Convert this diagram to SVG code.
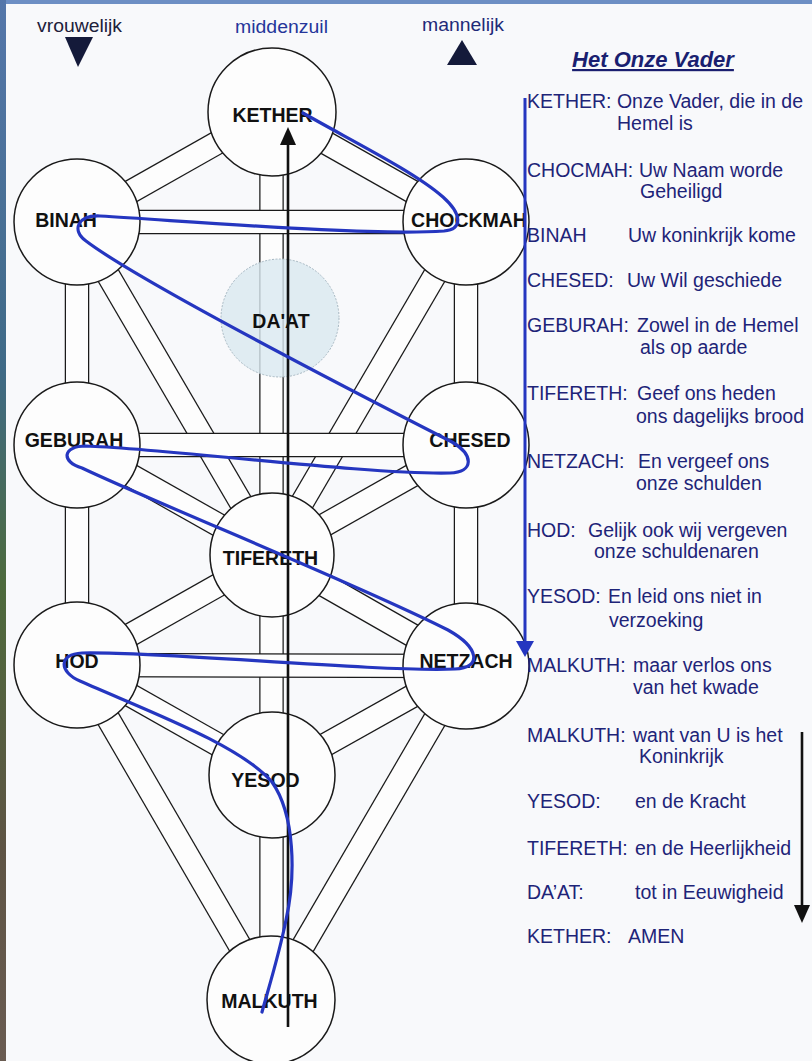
<svg xmlns="http://www.w3.org/2000/svg" width="812" height="1061" viewBox="0 0 812 1061">
<defs>
<linearGradient id="edge" x1="0" y1="0" x2="0" y2="1">
<stop offset="0" stop-color="#5577aa"/>
<stop offset="0.35" stop-color="#3f6a86"/>
<stop offset="0.55" stop-color="#4d6a3c"/>
<stop offset="0.8" stop-color="#5e5444"/>
<stop offset="1" stop-color="#6a5c52"/>
</linearGradient>
<marker id="ahK" markerUnits="userSpaceOnUse" markerWidth="18" markerHeight="18" refX="0" refY="8" orient="auto"><path d="M0,0 L18,8 L0,16 z" fill="#111111"/></marker>
<marker id="ahB" markerUnits="userSpaceOnUse" markerWidth="18" markerHeight="20" refX="0" refY="9" orient="auto"><path d="M0,0 L16,9 L0,18 z" fill="#2536c0"/></marker>
<style>
.co{stroke:#1a1a1a;stroke-width:24.5;fill:none}
.ci{stroke:#fdfdfd;stroke-width:22;fill:none}
.node{fill:#fdfdfd;stroke:#1a1a1a;stroke-width:1.5}
.lbl{font-family:"Liberation Sans",Arial,sans-serif;font-weight:bold;font-size:19.5px;fill:#111111;text-anchor:middle}
.rt{font-family:"Liberation Sans",Arial,sans-serif;font-size:19.5px;fill:#1e2478}
.top{font-family:"Liberation Sans",Arial,sans-serif;font-size:17.5px}
.serp{fill:none;stroke:#2536c0;stroke-width:3.2;stroke-linecap:round;stroke-linejoin:round}
</style>
</defs>
<rect x="0" y="0" width="812" height="1061" fill="#f8f9fb"/>
<rect x="0" y="0" width="812" height="4" fill="#6d8fc4"/>
<rect x="0" y="0" width="6" height="1061" fill="url(#edge)"/>

<g id="top-labels">
<text class="top" x="37" y="32" textLength="85" lengthAdjust="spacingAndGlyphs" fill="#20203a">vrouwelijk</text>
<polygon points="65,37 93,37 78,67" fill="#141a3a"/>
<text class="top" x="235" y="33" textLength="93" lengthAdjust="spacingAndGlyphs" fill="#25369a">middenzuil</text>
<text class="top" x="422" y="31" textLength="82" lengthAdjust="spacingAndGlyphs" fill="#1e2a78">mannelijk</text>
<polygon points="447,65 477,65 462,40" fill="#141a3a"/>
</g>

<g id="connectors">
<!-- diagonals -->
<line class="co" x1="271.5" y1="112" x2="77" y2="222"/><line class="ci" x1="271.5" y1="112" x2="77" y2="222"/>
<line class="co" x1="271.5" y1="112" x2="466" y2="222"/><line class="ci" x1="271.5" y1="112" x2="466" y2="222"/>
<line class="co" x1="466" y1="222" x2="271.5" y2="555"/><line class="ci" x1="466" y1="222" x2="271.5" y2="555"/>
<line class="co" x1="77" y1="222" x2="271.5" y2="555"/><line class="ci" x1="77" y1="222" x2="271.5" y2="555"/>
<line class="co" x1="466" y1="445" x2="271.5" y2="555"/><line class="ci" x1="466" y1="445" x2="271.5" y2="555"/>
<line class="co" x1="77" y1="445" x2="271.5" y2="555"/><line class="ci" x1="77" y1="445" x2="271.5" y2="555"/>
<line class="co" x1="271.5" y1="555" x2="466" y2="666"/><line class="ci" x1="271.5" y1="555" x2="466" y2="666"/>
<line class="co" x1="271.5" y1="555" x2="77" y2="665"/><line class="ci" x1="271.5" y1="555" x2="77" y2="665"/>
<line class="co" x1="466" y1="666" x2="271.5" y2="775"/><line class="ci" x1="466" y1="666" x2="271.5" y2="775"/>
<line class="co" x1="77" y1="665" x2="271.5" y2="775"/><line class="ci" x1="77" y1="665" x2="271.5" y2="775"/>
<line class="co" x1="466" y1="666" x2="271.5" y2="1000"/><line class="ci" x1="466" y1="666" x2="271.5" y2="1000"/>
<line class="co" x1="77" y1="665" x2="271.5" y2="1000"/><line class="ci" x1="77" y1="665" x2="271.5" y2="1000"/>
<!-- verticals -->
<line class="co" x1="77" y1="222" x2="77" y2="445"/><line class="ci" x1="77" y1="222" x2="77" y2="445"/>
<line class="co" x1="77" y1="445" x2="77" y2="665"/><line class="ci" x1="77" y1="445" x2="77" y2="665"/>
<line class="co" x1="466" y1="222" x2="466" y2="445"/><line class="ci" x1="466" y1="222" x2="466" y2="445"/>
<line class="co" x1="466" y1="445" x2="466" y2="666"/><line class="ci" x1="466" y1="445" x2="466" y2="666"/>
<line class="co" x1="271.5" y1="112" x2="271.5" y2="555"/><line class="ci" x1="271.5" y1="112" x2="271.5" y2="555"/>
<line class="co" x1="271.5" y1="555" x2="271.5" y2="775"/><line class="ci" x1="271.5" y1="555" x2="271.5" y2="775"/>
<line class="co" x1="271.5" y1="775" x2="271.5" y2="1000"/><line class="ci" x1="271.5" y1="775" x2="271.5" y2="1000"/>
<!-- horizontals -->
<line class="co" x1="77" y1="222" x2="466" y2="222"/><line class="ci" x1="77" y1="222" x2="466" y2="222"/>
<line class="co" x1="77" y1="445" x2="466" y2="445"/><line class="ci" x1="77" y1="445" x2="466" y2="445"/>
<line class="co" x1="77" y1="665" x2="466" y2="666"/><line class="ci" x1="77" y1="665" x2="466" y2="666"/>
</g>

<g id="kether"><circle class="node" cx="272" cy="112" r="64"/><text class="lbl" x="272.5" y="122">KETHER</text></g>
<g id="binah"><circle class="node" cx="77" cy="222" r="63"/><text class="lbl" x="66" y="227">BINAH</text></g>
<g id="chockmah"><circle class="node" cx="466" cy="222" r="63"/><text class="lbl" x="469" y="227">CHOCKMAH</text></g>
<g id="daat"><circle cx="280" cy="318" r="59" fill="#d9e8f0" fill-opacity="0.8" stroke="#a7b8c2" stroke-width="1" stroke-dasharray="2 1.5"/><text class="lbl" x="281" y="328">DA'AT</text></g>
<g id="geburah"><circle class="node" cx="77" cy="445" r="63"/><text class="lbl" x="74" y="447">GEBURAH</text></g>
<g id="chesed"><circle class="node" cx="466" cy="445" r="63"/><text class="lbl" x="470" y="447">CHESED</text></g>
<g id="tifereth"><circle class="node" cx="272" cy="555" r="62"/><text class="lbl" x="270.5" y="565">TIFERETH</text></g>
<g id="hod"><circle class="node" cx="77" cy="665" r="63"/><text class="lbl" x="77" y="668">HOD</text></g>
<g id="netzach"><circle class="node" cx="466" cy="666" r="63"/><text class="lbl" x="466" y="668">NETZACH</text></g>
<g id="yesod"><circle class="node" cx="272" cy="775" r="63"/><text class="lbl" x="265.5" y="787">YESOD</text></g>
<g id="malkuth"><circle class="node" cx="271" cy="1000" r="64"/><text class="lbl" x="269.5" y="1008">MALKUTH</text></g>

<g id="annotations">
<line x1="288" y1="1027" x2="288" y2="145" stroke="#111111" stroke-width="2.6" marker-end="url(#ahK)"/>
<path class="serp" d="M303,113 C350,140 415,172 443,197 C462,214 463,229 444,231 C370,236 200,222 100,216 C78,215 71,230 86,241 C140,282 360,395 452,442 C474,455 474,472 450,473 C370,475 160,448 86,446 C62,446 61,462 82,468 C160,505 360,585 448,630 C480,648 482,668 455,669 C370,672 160,651 82,653 C58,654 59,672 80,681 C150,712 240,745 272,782 C295,815 296,875 286,920 C279,955 268,990 262,1012"/>
<line x1="525" y1="98" x2="525" y2="641" stroke="#2536c0" stroke-width="3" marker-end="url(#ahB)"/>
<line x1="802" y1="732" x2="802" y2="905" stroke="#111111" stroke-width="2.6" marker-end="url(#ahK)"/>
</g>

<g id="prayer">
<text x="653" y="67" font-family="Liberation Sans, Arial, sans-serif" font-size="22" font-weight="bold" font-style="italic" fill="#1a1f70" text-anchor="middle" text-decoration="underline">Het Onze Vader</text>
<text class="rt" x="527" y="108">KETHER: Onze Vader, die in de</text>
<text class="rt" x="617" y="130">Hemel is</text>
<text class="rt"><tspan x="527" y="177">CHOCMAH:</tspan> <tspan x="639" y="177">Uw Naam worde</tspan></text>
<text class="rt" x="640" y="198">Geheiligd</text>
<text class="rt"><tspan x="527" y="242">BINAH</tspan> <tspan x="628" y="242">Uw koninkrijk kome</tspan></text>
<text class="rt"><tspan x="527" y="287">CHESED:</tspan> <tspan x="627" y="287">Uw Wil geschiede</tspan></text>
<text class="rt"><tspan x="527" y="332">GEBURAH:</tspan> <tspan x="637" y="332">Zowel in de Hemel</tspan></text>
<text class="rt" x="640" y="354">als op aarde</text>
<text class="rt"><tspan x="527" y="400">TIFERETH:</tspan> <tspan x="637" y="400">Geef ons heden</tspan></text>
<text class="rt" x="636" y="423">ons dagelijks brood</text>
<text class="rt"><tspan x="527" y="468">NETZACH:</tspan> <tspan x="638" y="468">En vergeef ons</tspan></text>
<text class="rt" x="636" y="490">onze schulden</text>
<text class="rt"><tspan x="527" y="537">HOD:</tspan> <tspan x="588" y="537">Gelijk ook wij vergeven</tspan></text>
<text class="rt" x="594" y="558">onze schuldenaren</text>
<text class="rt"><tspan x="527" y="603">YESOD:</tspan> <tspan x="608" y="603">En leid ons niet in</tspan></text>
<text class="rt" x="609" y="627">verzoeking</text>
<text class="rt"><tspan x="527" y="672">MALKUTH:</tspan> <tspan x="633" y="672">maar verlos ons</tspan></text>
<text class="rt" x="633" y="694">van het kwade</text>
<text class="rt"><tspan x="527" y="742">MALKUTH:</tspan> <tspan x="633" y="742">want van U is het</tspan></text>
<text class="rt" x="639" y="763">Koninkrijk</text>
<text class="rt"><tspan x="527" y="808">YESOD:</tspan> <tspan x="635" y="808">en de Kracht</tspan></text>
<text class="rt"><tspan x="527" y="855">TIFERETH:</tspan> <tspan x="635" y="855">en de Heerlijkheid</tspan></text>
<text class="rt"><tspan x="527" y="899">DA’AT:</tspan> <tspan x="635" y="899">tot in Eeuwigheid</tspan></text>
<text class="rt"><tspan x="527" y="943">KETHER:</tspan> <tspan x="628" y="943">AMEN</tspan></text>
</g>
</svg>
